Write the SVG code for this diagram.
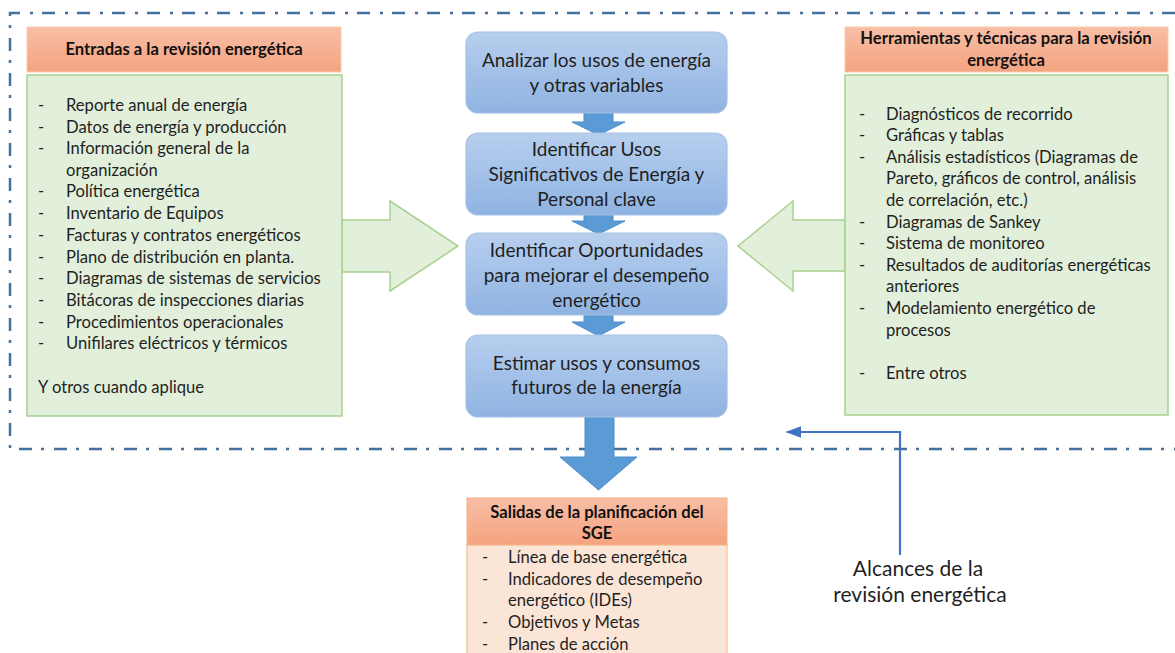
<svg xmlns="http://www.w3.org/2000/svg" width="1175" height="653" viewBox="0 0 1175 653">
<style>
text{font-family:Lato,"Liberation Sans",sans-serif;fill:#1f1f1f}
.li{font-size:16.6px}
.hd{font-size:16.6px;font-weight:bold;fill:#111;text-anchor:middle}
.bx{font-size:19px;text-anchor:middle}
.al{font-size:21px;text-anchor:middle}
.green{fill:#e2efda;stroke:#a9d18e;stroke-width:1.5}
.blk{fill:#e2efda;stroke:#a9d18e;stroke-width:1.5}
.step{fill:url(#gb);stroke:#a6c1e4;stroke-width:1.2}
.sarr{fill:#5b9bd5;stroke:#4d8ccb;stroke-width:1}
.border{fill:none;stroke:#41719c;stroke-width:2.5;stroke-dasharray:13 9 3 10}
</style>
<defs>
<linearGradient id="gb" x1="0" y1="0" x2="0" y2="1">
<stop offset="0" stop-color="#b7cfee"/><stop offset="1" stop-color="#8fb3e2"/>
</linearGradient>
<linearGradient id="go" x1="0" y1="0" x2="0" y2="1">
<stop offset="0" stop-color="#f8bea6"/><stop offset="1" stop-color="#f4a37f"/>
</linearGradient>
<marker id="ah" viewBox="0 0 10 10" refX="9" refY="5" markerWidth="16" markerHeight="12" markerUnits="userSpaceOnUse" orient="auto" preserveAspectRatio="none">
<path d="M0,0 L10,5 L0,10 z" fill="#4472c4"/>
</marker>
</defs>

<g id="scope-border">
<path class="border" d="M1175,13 H10 V449 H1175"/>
</g>

<g id="connectors">
<polygon class="blk" points="342,220 390,220 390,201 458,246 390,291 390,272 342,272"/>
<polygon class="blk" points="845,220 793,220 793,201 738,246 793,291 793,271 845,271"/>
<polygon class="sarr" points="584,113 613,113 613,122 625,122 598.5,135 572,122 584,122"/>
<polygon class="sarr" points="584,215 613,215 613,221 625,221 598.5,234 572,221 584,221"/>
<polygon class="sarr" points="584,315 613,315 613,322 625,322 598.5,336 572,322 584,322"/>
<polygon class="sarr" points="585,417 614,417 614,457 637,457 598.5,490 560,457 585,457"/>
<path d="M900,555 V432 H787" fill="none" stroke="#4472c4" stroke-width="2.2" marker-end="url(#ah)"/>
</g>

<g id="entradas">
<rect x="27" y="27" width="314" height="45" fill="url(#go)" stroke="#f8cbad" stroke-width="1"/>
<text class="hd" x="184" y="55">Entradas a la revisión energética</text>
<rect class="green" x="27" y="75" width="315" height="341"/>
<g class="li">
<text x="38" y="111">-</text><text x="66" y="111">Reporte anual de energía</text>
<text x="38" y="133">-</text><text x="66" y="133">Datos de energía y producción</text>
<text x="38" y="154">-</text><text x="66" y="154">Información general de la</text>
<text x="66" y="176">organización</text>
<text x="38" y="197">-</text><text x="66" y="197">Política energética</text>
<text x="38" y="219">-</text><text x="66" y="219">Inventario de Equipos</text>
<text x="38" y="241">-</text><text x="66" y="241">Facturas y contratos energéticos</text>
<text x="38" y="263">-</text><text x="66" y="263">Plano de distribución en planta.</text>
<text x="38" y="284">-</text><text x="66" y="284">Diagramas de sistemas de servicios</text>
<text x="38" y="306">-</text><text x="66" y="306">Bitácoras de inspecciones diarias</text>
<text x="38" y="328">-</text><text x="66" y="328">Procedimientos operacionales</text>
<text x="38" y="349">-</text><text x="66" y="349">Unifilares eléctricos y térmicos</text>
<text x="38" y="393">Y otros cuando aplique</text>
</g>
</g>

<g id="herramientas">
<rect x="845" y="27" width="323" height="45" fill="url(#go)" stroke="#f8cbad" stroke-width="1"/>
<text class="hd" x="1006" y="44">Herramientas y técnicas para la revisión</text>
<text class="hd" x="1006" y="66">energética</text>
<rect class="green" x="845" y="75" width="323" height="340"/>
<g class="li">
<text x="859" y="120">-</text><text x="886" y="120">Diagnósticos de recorrido</text>
<text x="859" y="141">-</text><text x="886" y="141">Gráficas y tablas</text>
<text x="859" y="163">-</text><text x="886" y="163">Análisis estadísticos (Diagramas de</text>
<text x="886" y="184">Pareto, gráficos de control, análisis</text>
<text x="886" y="206">de correlación, etc.)</text>
<text x="859" y="228">-</text><text x="886" y="228">Diagramas de Sankey</text>
<text x="859" y="249">-</text><text x="886" y="249">Sistema de monitoreo</text>
<text x="859" y="271">-</text><text x="886" y="271">Resultados de auditorías energéticas</text>
<text x="886" y="292">anteriores</text>
<text x="859" y="314">-</text><text x="886" y="314">Modelamiento energético de</text>
<text x="886" y="336">procesos</text>
<text x="859" y="379">-</text><text x="886" y="379">Entre otros</text>
</g>
</g>

<g id="step1">
<rect class="step" x="466" y="32" width="261" height="81" rx="12"/>
<text class="bx" x="596.5" y="67">Analizar los usos de energía</text>
<text class="bx" x="596.5" y="92">y otras variables</text>
</g>
<g id="step2">
<rect class="step" x="466" y="133" width="261" height="82" rx="12"/>
<text class="bx" x="596.5" y="156">Identificar Usos</text>
<text class="bx" x="596.5" y="181">Significativos de Energía y</text>
<text class="bx" x="596.5" y="206">Personal clave</text>
</g>
<g id="step3">
<rect class="step" x="466" y="233" width="261" height="82" rx="12"/>
<text class="bx" x="596.5" y="257">Identificar Oportunidades</text>
<text class="bx" x="596.5" y="282">para mejorar el desempeño</text>
<text class="bx" x="596.5" y="307">energético</text>
</g>
<g id="step4">
<rect class="step" x="466" y="335" width="261" height="82" rx="12"/>
<text class="bx" x="596.5" y="370">Estimar usos y consumos</text>
<text class="bx" x="596.5" y="394">futuros de la energía</text>
</g>

<g id="salidas">
<rect x="467" y="498" width="260" height="47" fill="url(#go)" stroke="#f4b183" stroke-width="1"/>
<text class="hd" x="597" y="518">Salidas de la planificación del</text>
<text class="hd" x="597" y="539">SGE</text>
<rect x="467" y="545" width="260" height="112" fill="#fbe5d6" stroke="#f4b183" stroke-width="1"/>
<g class="li">
<text x="482" y="563">-</text><text x="508" y="563">Línea de base energética</text>
<text x="482" y="585">-</text><text x="508" y="585">Indicadores de desempeño</text>
<text x="508" y="606">energético (IDEs)</text>
<text x="482" y="628">-</text><text x="508" y="628">Objetivos y Metas</text>
<text x="482" y="650">-</text><text x="508" y="650">Planes de acción</text>
</g>
</g>

<g id="alcances">
<text class="al" x="918" y="576">Alcances de la</text>
<text class="al" x="920" y="602">revisión energética</text>
</g>
</svg>
